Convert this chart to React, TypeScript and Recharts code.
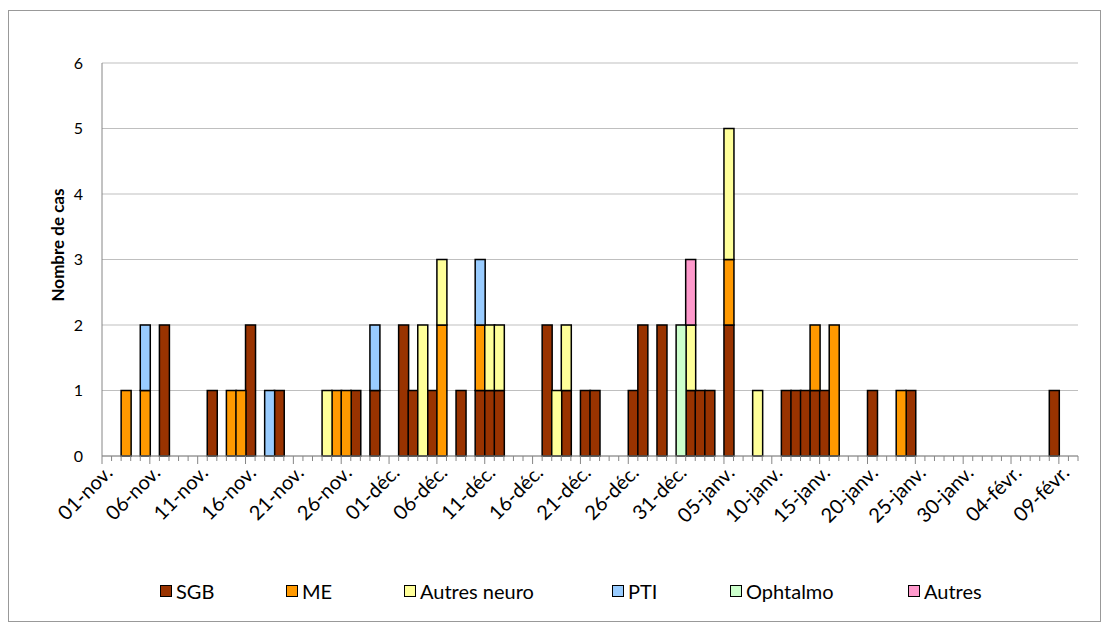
// Cas par jour de début des signes, stacked by category

import React from "react";
import { BarChart, Bar, XAxis, YAxis, CartesianGrid, Legend } from "recharts";

const MONTHS = ["nov.", "déc.", "janv.", "févr."];
const MONTH_DAYS = [30, 31, 31, 10];

// one category per day, 01-nov. .. 10-févr.
const DAYS: string[] = MONTHS.flatMap((m, i) =>
  Array.from({ length: MONTH_DAYS[i] }, (_, d) => `${String(d + 1).padStart(2, "0")}-${m}`)
);

const SGB = [
  0,0,0,0,0,0,2,0,0,0, 0,1,0,0,0,2,0,0,1,0, 0,0,0,0,0,0,1,0,1,0,
  0,2,1,0,1,0,0,1,0,1, 1,1,0,0,0,0,2,0,1,0, 1,1,0,0,0,1,2,0,2,0, 0,
  1,1,1,0,2,0,0,0,0,0, 1,1,1,1,1,0,0,0,0,1, 0,0,0,1,0,0,0,0,0,0, 0,
  0,0,0,0,0,0,0,1,0,0,
];
const ME = [
  0,0,1,0,1,0,0,0,0,0, 0,0,0,1,1,0,0,0,0,0, 0,0,0,0,1,1,0,0,0,0,
  0,0,0,0,0,2,0,0,0,1, 0,0,0,0,0,0,0,0,0,0, 0,0,0,0,0,0,0,0,0,0, 0,
  0,0,0,0,1,0,0,0,0,0, 0,0,0,1,0,2,0,0,0,0, 0,0,1,0,0,0,0,0,0,0, 0,
  0,0,0,0,0,0,0,0,0,0,
];
const AUTRES_NEURO = [
  0,0,0,0,0,0,0,0,0,0, 0,0,0,0,0,0,0,0,0,0, 0,0,0,1,0,0,0,0,0,0,
  0,0,0,2,0,1,0,0,0,0, 1,1,0,0,0,0,0,1,1,0, 0,0,0,0,0,0,0,0,0,0, 0,
  1,0,0,0,2,0,0,1,0,0, 0,0,0,0,0,0,0,0,0,0, 0,0,0,0,0,0,0,0,0,0, 0,
  0,0,0,0,0,0,0,0,0,0,
];
const PTI = [
  0,0,0,0,1,0,0,0,0,0, 0,0,0,0,0,0,0,1,0,0, 0,0,0,0,0,0,0,0,1,0,
  0,0,0,0,0,0,0,0,0,1, 0,0,0,0,0,0,0,0,0,0, 0,0,0,0,0,0,0,0,0,0, 0,
  0,0,0,0,0,0,0,0,0,0, 0,0,0,0,0,0,0,0,0,0, 0,0,0,0,0,0,0,0,0,0, 0,
  0,0,0,0,0,0,0,0,0,0,
];
const OPHTALMO = [
  0,0,0,0,0,0,0,0,0,0, 0,0,0,0,0,0,0,0,0,0, 0,0,0,0,0,0,0,0,0,0,
  0,0,0,0,0,0,0,0,0,0, 0,0,0,0,0,0,0,0,0,0, 0,0,0,0,0,0,0,0,0,0, 2,
  0,0,0,0,0,0,0,0,0,0, 0,0,0,0,0,0,0,0,0,0, 0,0,0,0,0,0,0,0,0,0, 0,
  0,0,0,0,0,0,0,0,0,0,
];
const AUTRES = [
  0,0,0,0,0,0,0,0,0,0, 0,0,0,0,0,0,0,0,0,0, 0,0,0,0,0,0,0,0,0,0,
  0,0,0,0,0,0,0,0,0,0, 0,0,0,0,0,0,0,0,0,0, 0,0,0,0,0,0,0,0,0,0, 0,
  1,0,0,0,0,0,0,0,0,0, 0,0,0,0,0,0,0,0,0,0, 0,0,0,0,0,0,0,0,0,0, 0,
  0,0,0,0,0,0,0,0,0,0,
];

const Y_TICKS = [0, 1, 2, 3, 4, 5, 6];

const SERIES = [
  { key: "SGB", values: SGB, color: "#993300" },
  { key: "ME", values: ME, color: "#ff9900" },
  { key: "Autres neuro", values: AUTRES_NEURO, color: "#ffff99" },
  { key: "PTI", values: PTI, color: "#99ccff" },
  { key: "Ophtalmo", values: OPHTALMO, color: "#ccffcc" },
  { key: "Autres", values: AUTRES, color: "#ff99cc" },
];

const data = DAYS.map((day, i) => {
  const row: Record<string, string | number> = { day };
  SERIES.forEach((s) => (row[s.key] = s.values[i]));
  return row;
});

const FONT = "Lato, 'Liberation Sans', sans-serif";
const AXIS = "#868686";
const CHART_W = 1091;
const CHART_H = 610;
const PLOT_W = 976;
const BAND = PLOT_W / DAYS.length;
const LEGEND_LEFT = [151, 277, 395, 603, 721, 899];

function DayTick(props: any) {
  const { x, y, index, payload } = props;
  const major = index % 5 === 0;
  const left = x - BAND / 2;
  return (
    <g>
      <line x1={left} x2={left} y1={y} y2={y + (major ? 8 : 5)} stroke={AXIS} />
      {index === DAYS.length - 1 && (
        <line x1={x + BAND / 2} x2={x + BAND / 2} y1={y} y2={y + 5} stroke={AXIS} />
      )}
      {major && (
        <text
          transform={`translate(${x + 7},${y + 18}) rotate(-45)`}
          textAnchor="end"
          fontFamily={FONT}
          fontSize={20}
          fill="#000"
        >
          {payload.value}
        </text>
      )}
    </g>
  );
}

function YTitle() {
  return (
    <text
      x={48}
      y={234}
      transform="rotate(-90, 48, 234)"
      textAnchor="middle"
      dominantBaseline="central"
      fontFamily={FONT}
      fontSize={17}
      fontWeight={700}
      fill="#000"
    >
      Nombre de cas
    </text>
  );
}

function renderLegend() {
  return (
    <div style={{ position: "relative", width: "100%", height: 40, fontFamily: FONT, fontSize: 20 }}>
      {SERIES.map((s, i) => (
        <div
          key={s.key}
          style={{
            position: "absolute",
            left: LEGEND_LEFT[i],
            top: 10,
            height: 22,
            lineHeight: "22px",
            display: "flex",
            alignItems: "center",
            whiteSpace: "nowrap",
            color: "#000",
          }}
        >
          <span
            style={{
              display: "inline-block",
              width: 10,
              height: 10,
              background: s.color,
              border: "1.5px solid #000",
              marginRight: 4,
            }}
          />
          <span>{s.key}</span>
        </div>
      ))}
    </div>
  );
}

export default function App() {
  return (
    <div
      style={{
        position: "absolute",
        left: 8,
        top: 10,
        width: CHART_W + 2,
        height: CHART_H + 2,
        border: "1px solid #999",
        boxSizing: "border-box",
        background: "#fff",
      }}
    >
      <BarChart
        width={CHART_W}
        height={CHART_H}
        data={data}
        margin={{ top: 52, right: 22, left: 0, bottom: 45 }}
        barCategoryGap={0}
        barGap={0}
      >
        <CartesianGrid vertical={false} stroke="#bfbfbf" />
        <XAxis
          dataKey="day"
          interval={0}
          height={120}
          tickSize={0}
          tickMargin={0}
          tickLine={false}
          axisLine={{ stroke: AXIS }}
          tick={<DayTick />}
        />
        <YAxis
          width={93}
          domain={[0, 6]}
          ticks={Y_TICKS}
          allowDecimals={false}
          tickSize={0}
          tickMargin={19}
          tickLine={false}
          axisLine={{ stroke: AXIS }}
          tick={{ fill: "#000", fontSize: 16, fontFamily: FONT }}
          label={{ content: () => <YTitle /> }}
        />
        <Legend
          layout="horizontal"
          verticalAlign="middle"
          align="center"
          content={renderLegend}
          wrapperStyle={{ top: 559, left: 0, width: CHART_W, height: 40 }}
        />
        {SERIES.map((s) => (
          <Bar
            key={s.key}
            dataKey={s.key}
            stackId="cas"
            fill={s.color}
            stroke="#000"
            strokeWidth={1.5}
            isAnimationActive={false}
          />
        ))}
      </BarChart>
    </div>
  );
}
